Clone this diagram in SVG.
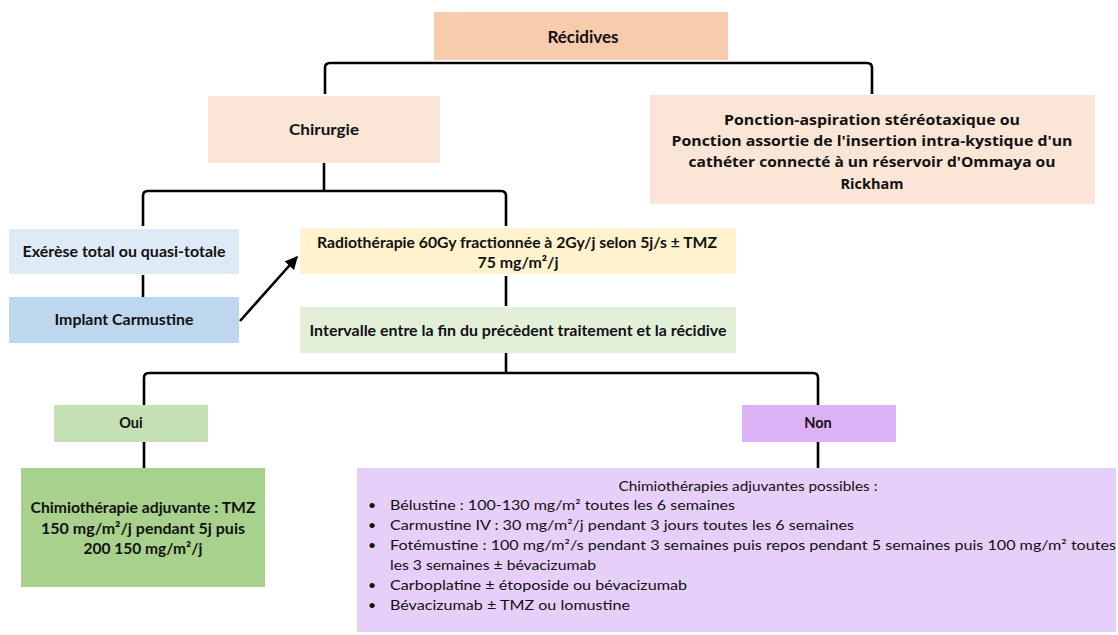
<svg xmlns="http://www.w3.org/2000/svg" width="1118" height="635" viewBox="0 0 1118 635">
<defs>
<style>
.t{font-family:"Lato","Liberation Sans",sans-serif;font-weight:bold;font-size:14.5px;fill:#111;text-anchor:middle}
.tl{font-family:"Lato","Liberation Sans",sans-serif;font-weight:normal;font-size:14px;fill:#111}
.tp{font-family:"Open Sans","Liberation Sans",sans-serif;font-weight:bold;font-size:14.5px;fill:#111;text-anchor:middle}
.c{fill:none;stroke:#000;stroke-width:2.6;stroke-linecap:butt}
</style>
<marker id="ah" viewBox="0 0 10 10" refX="9" refY="5" markerWidth="5" markerHeight="5" orient="auto">
<path d="M0,0 L10,5 L0,10 Z" fill="#000"/>
</marker>
</defs>
<rect width="1118" height="635" fill="#fff"/>

<g id="connectors">
<path class="c" d="M325,94 L325,68 Q325,63 330,63 L867,63 Q872,63 872,68 L872,94"/>
<path class="c" d="M324,163 L324,191"/>
<path class="c" d="M143,226 L143,196 Q143,191 148,191 L501,191 Q506,191 506,196 L506,226"/>
<path class="c" d="M143,275 L143,297"/>
<path class="c" d="M506,276 L506,306"/>
<path class="c" d="M506,353 L506,373"/>
<path class="c" d="M144,405 L144,378 Q144,373 149,373 L813,373 Q818,373 818,378 L818,405"/>
<path class="c" d="M144,442 L144,468"/>
<path class="c" d="M818,442 L818,468"/>
<path class="c" d="M240,321 L297,257" marker-end="url(#ah)"/>
</g>

<g id="recidives">
<rect x="434" y="12" width="294" height="48" fill="#F8CBAD"/>
<text class="t" x="583" y="43" style="font-size:17px">Récidives</text>
</g>

<g id="chirurgie">
<rect x="208" y="96" width="232" height="67" fill="#FBE5D6"/>
<text class="t" x="324" y="135" textLength="70" lengthAdjust="spacingAndGlyphs">Chirurgie</text>
</g>

<g id="ponction">
<rect x="650" y="95" width="445" height="109" fill="#FBE5D6"/>
<text class="tp" x="872" y="125" textLength="296" lengthAdjust="spacingAndGlyphs">Ponction-aspiration  stéréotaxique ou</text>
<text class="tp" x="872" y="146" textLength="401" lengthAdjust="spacingAndGlyphs">Ponction assortie de l'insertion intra-kystique d'un</text>
<text class="tp" x="872" y="167" textLength="367" lengthAdjust="spacingAndGlyphs">cathéter connecté à un réservoir d'Ommaya ou</text>
<text class="tp" x="872" y="189">Rickham</text>
</g>

<g id="exerese">
<rect x="9" y="229" width="230" height="45" fill="#DEEBF7"/>
<text class="t" x="124" y="257" textLength="203" lengthAdjust="spacingAndGlyphs">Exérèse total ou quasi-totale</text>
</g>

<g id="implant">
<rect x="9" y="297" width="230" height="46" fill="#BDD7EE"/>
<text class="t" x="124" y="325" textLength="139" lengthAdjust="spacingAndGlyphs">Implant Carmustine</text>
</g>

<g id="radiotherapie">
<rect x="300" y="228" width="436" height="46" fill="#FFF2CC"/>
<text class="t" x="517" y="248" textLength="400" lengthAdjust="spacingAndGlyphs">Radiothérapie  60Gy fractionnée à 2Gy/j selon 5j/s ± TMZ</text>
<text class="t" x="518" y="268" textLength="81" lengthAdjust="spacingAndGlyphs">75 mg/m²/j</text>
</g>

<g id="intervalle">
<rect x="300" y="307" width="436" height="46" fill="#E2F0D9"/>
<text class="t" x="518" y="336" textLength="417" lengthAdjust="spacingAndGlyphs">Intervalle entre la fin du précèdent traitement et la récidive</text>
</g>

<g id="oui">
<rect x="54" y="405" width="154" height="37" fill="#C5E0B4"/>
<text class="t" x="131" y="428">Oui</text>
</g>

<g id="non">
<rect x="742" y="405" width="154" height="37" fill="#DDB1F5"/>
<text class="t" x="818" y="428">Non</text>
</g>

<g id="chimio-oui">
<rect x="21" y="468" width="244" height="119" fill="#A9D18E"/>
<text class="t" x="143" y="513" textLength="225" lengthAdjust="spacingAndGlyphs">Chimiothérapie adjuvante : TMZ</text>
<text class="t" x="143" y="534" textLength="204" lengthAdjust="spacingAndGlyphs">150 mg/m²/j pendant 5j  puis</text>
<text class="t" x="143" y="554" textLength="119" lengthAdjust="spacingAndGlyphs">200 150 mg/m²/j</text>
</g>

<g id="chimio-non">
<rect x="357" y="468" width="759" height="164" fill="#E6D0FA"/>
<text class="t" x="748" y="491" textLength="259" lengthAdjust="spacingAndGlyphs" style="font-weight:normal;font-size:14px">Chimiothérapies adjuvantes possibles :</text>
<g class="tl">
<text x="368" y="510">•</text>
<text x="390" y="510" textLength="345" lengthAdjust="spacingAndGlyphs">Bélustine : 100-130 mg/m² toutes les 6 semaines</text>
<text x="368" y="530">•</text>
<text x="390" y="530" textLength="464" lengthAdjust="spacingAndGlyphs">Carmustine IV : 30 mg/m²/j pendant 3 jours toutes les 6 semaines</text>
<text x="368" y="550">•</text>
<text x="390" y="550" textLength="726" lengthAdjust="spacingAndGlyphs">Fotémustine : 100 mg/m²/s pendant 3 semaines puis repos pendant 5 semaines puis 100 mg/m² toutes</text>
<text x="390" y="570" textLength="206" lengthAdjust="spacingAndGlyphs">les 3 semaines ± bévacizumab</text>
<text x="368" y="590">•</text>
<text x="390" y="590" textLength="297" lengthAdjust="spacingAndGlyphs">Carboplatine ± étoposide ou bévacizumab</text>
<text x="368" y="610">•</text>
<text x="390" y="610" textLength="240" lengthAdjust="spacingAndGlyphs">Bévacizumab ± TMZ ou lomustine</text>
</g>
</g>
</svg>
